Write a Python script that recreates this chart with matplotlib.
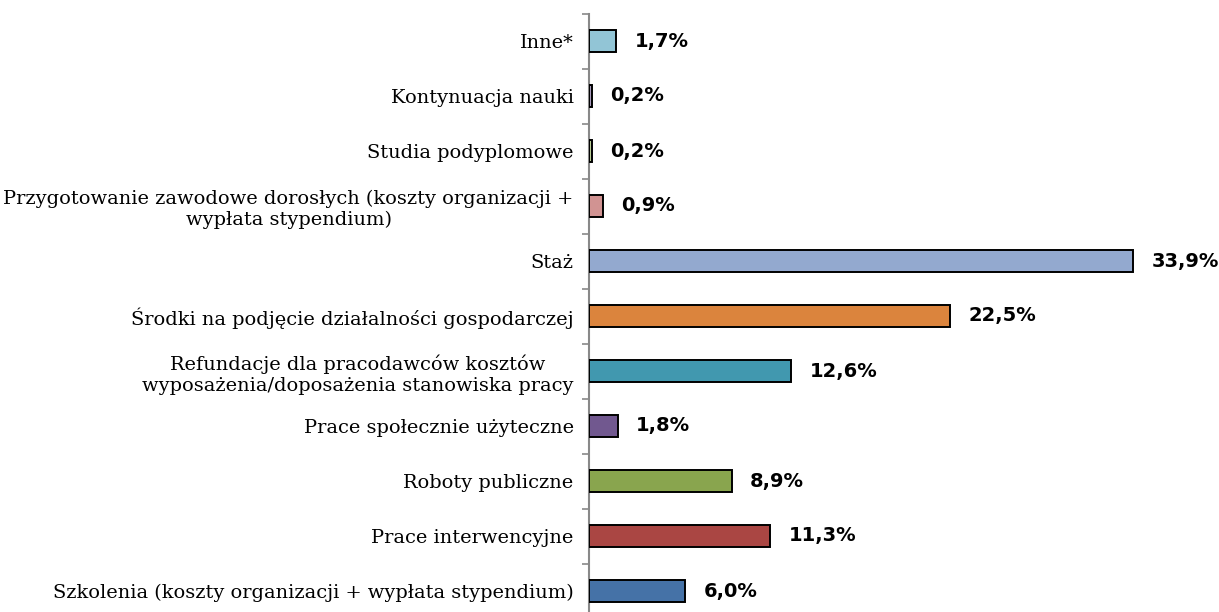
import matplotlib
matplotlib.use("Agg")
import matplotlib.pyplot as plt
from matplotlib.ticker import FixedLocator

categories = [
    "Szkolenia (koszty organizacji + wypłata stypendium)",
    "Prace interwencyjne",
    "Roboty publiczne",
    "Prace społecznie użyteczne",
    "Refundacje dla pracodawców kosztów\nwyposażenia/doposażenia stanowiska pracy",
    "Środki na podjęcie działalności gospodarczej",
    "Staż",
    "Przygotowanie zawodowe dorosłych (koszty organizacji +\nwypłata stypendium)",
    "Studia podyplomowe",
    "Kontynuacja nauki",
    "Inne*",
]
values = [6.0, 11.3, 8.9, 1.8, 12.6, 22.5, 33.9, 0.9, 0.2, 0.2, 1.7]
labels = ["6,0%", "11,3%", "8,9%", "1,8%", "12,6%", "22,5%", "33,9%", "0,9%", "0,2%", "0,2%", "1,7%"]
colors = ["#4572A7", "#AA4643", "#89A54E", "#71588F", "#4198AF", "#DB843D",
          "#93A9CF", "#D19392", "#B9CD96", "#A99BBD", "#92C5D6"]

fig = plt.figure(figsize=(12.19, 6.12), dpi=100)
ax = fig.add_axes([589/1219, (612-618.5)/612, (1199-589)/1219, 605/612])

y = list(range(len(categories)))
ax.barh(y, values, height=0.4, color=colors, edgecolor="black", linewidth=1.4, zorder=3)
ax.set_xlim(0, 38)
ax.set_ylim(-0.5, len(categories) - 0.5)

for yi, v, lab in zip(y, values, labels):
    ax.annotate(lab, xy=(v, yi), xytext=(13, 0), textcoords="offset points",
                ha="left", va="center", fontsize=14, fontweight="bold",
                family="DejaVu Sans", color="black")

ax.set_yticks(y)
ax.set_yticklabels(categories, family="DejaVu Serif", fontsize=13.95, multialignment="center",
                   linespacing=1.2)
ax.tick_params(axis="y", which="major", length=0, pad=11)
ax.yaxis.set_minor_locator(FixedLocator([i + 0.5 for i in range(-1, len(categories))]))
ax.tick_params(axis="y", which="minor", length=5, width=1.2, color="#898989", direction="out")
ax.set_xticks([])
for s in ["top", "right", "bottom"]:
    ax.spines[s].set_visible(False)
ax.spines["left"].set_color("#898989")
ax.spines["left"].set_linewidth(1.5)

fig.savefig("out.png", dpi=100)
